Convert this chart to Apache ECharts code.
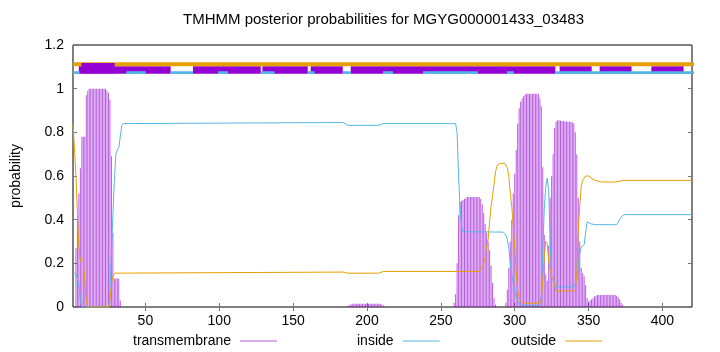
<!DOCTYPE html>
<html><head><meta charset="utf-8">
<script src="https://cdn.jsdelivr.net/npm/echarts@6/dist/echarts.min.js"></script>
<style>html,body{margin:0;padding:0;background:#fff}#c{width:720px;height:352px}</style>
</head><body><div id="c"></div>
<script>
const titleText = 'TMHMM posterior probabilities for MGYG000001433_03483';
const xTicks = [50, 100, 150, 200, 250, 300, 350, 400];

// posterior probability per residue: [residue, probability]
const transmembrane = [
[3,0.27],[4,0.41],[5,0.52],[6,0.635],[7,0.78],[8,0.78],[9,0.78],[10,0.97],[11,0.99],[12,1],[13,1],[14,1],[15,1],[16,1],[17,1],[18,1],[19,1],[20,1],[21,1],[22,1],[23,1],[24,0.99],[25,0.98],[26,0.95],[27,0.69],[28,0.34],[29,0.13],[30,0.13],[31,0.13],[32,0.13],[33,0.03],
[187,0.004],[188,0.008],[189,0.011],[190,0.013],[191,0.015],[192,0.015],[193,0.015],[194,0.015],[195,0.015],[196,0.015],[197,0.015],[198,0.015],[199,0.015],[200,0.015],[201,0.015],[202,0.015],[203,0.015],[204,0.015],[205,0.015],[206,0.015],[207,0.015],[208,0.015],[209,0.015],[210,0.012],[211,0.008],[212,0.004],
[259,0.02],[260,0.06],[261,0.2],[262,0.42],[263,0.48],[264,0.485],[265,0.49],[266,0.495],[267,0.5],[268,0.504],[269,0.504],[270,0.504],[271,0.504],[272,0.504],[273,0.504],[274,0.504],[275,0.504],[276,0.504],[277,0.495],[278,0.47],[279,0.43],[280,0.38],[281,0.34],[282,0.3],[283,0.26],[284,0.19],[285,0.11],[286,0.04],[287,0.01],
[294,0.02],[295,0.08],[296,0.18],[297,0.3],[298,0.4],[299,0.52],[300,0.61],[301,0.72],[302,0.84],[303,0.91],[304,0.94],[305,0.955],[306,0.965],[307,0.972],[308,0.977],[309,0.977],[310,0.977],[311,0.977],[312,0.977],[313,0.977],[314,0.977],[315,0.977],[316,0.977],[317,0.955],[318,0.92],[319,0.64],[320,0.33],[321,0.15],[322,0.12],[323,0.28],[324,0.5],[325,0.6],[326,0.7],[327,0.82],[328,0.85],[329,0.855],[330,0.855],[331,0.853],[332,0.852],[333,0.851],[334,0.85],[335,0.85],[336,0.849],[337,0.848],[338,0.847],[339,0.846],[340,0.84],[341,0.8],[342,0.7],[343,0.5],[344,0.3],[345,0.18],[346,0.155],[347,0.14],[348,0.1],[349,0.04],[350,0.025],
[351,0.03],[352,0.035],[353,0.04],[354,0.048],[355,0.052],[356,0.055],[357,0.055],[358,0.055],[359,0.055],[360,0.055],[361,0.055],[362,0.055],[363,0.055],[364,0.055],[365,0.055],[366,0.055],[367,0.055],[368,0.055],[369,0.052],[370,0.045],[371,0.035],[372,0.02],[373,0.01]
];

const inside = [
[1,0.16],[2,0.155],[3,0.15],[4,0.13],[5,0.1],[6,0.03],[7,0],[25,0],[26,0.05],[27,0.25],[28,0.42],[29,0.58],[30,0.7],[31,0.72],[32,0.73],[33,0.78],[34,0.83],[35,0.84],[36,0.845],
[184,0.845],[187,0.832],[208,0.832],[211,0.84],[260,0.84],[261,0.8],[262,0.6],[263,0.45],[264,0.37],[265,0.345],[292,0.343],[294,0.33],[295,0.31],[296,0.27],[297,0.2],[298,0.15],[299,0.11],[300,0.075],[301,0.046],[302,0.03],[303,0.015],[305,0.008],[317,0.008],
[318,0.05],[319,0.26],[320,0.45],[321,0.55],[322,0.59],[323,0.53],[324,0.3],[325,0.14],[326,0.13],[327,0.11],[328,0.095],[330,0.092],[340,0.092],[341,0.1],[342,0.122],[343,0.18],[344,0.245],[345,0.275],[346,0.28],[347,0.285],[348,0.34],[349,0.39],[350,0.39],[352,0.38],[355,0.377],[369,0.377],[370,0.385],[371,0.4],[372,0.412],[373,0.42],[374,0.423],[420,0.423]
];

const outside = [
[1,0.84],[2,0.84],[3,0.6],[4,0.42],[5,0.27],[6,0.21],[7,0.21],[8,0.21],[9,0.12],[10,0.02],[11,0],[25,0],[26,0.03],[27,0.1],[28,0.14],[29,0.155],[30,0.16],
[184,0.16],[187,0.155],[208,0.155],[211,0.163],[276,0.163],[277,0.168],[278,0.18],[279,0.2],[280,0.23],[281,0.28],[282,0.31],[283,0.39],[284,0.46],[285,0.51],[286,0.56],[287,0.62],[288,0.645],[289,0.655],[290,0.66],[293,0.659],[294,0.65],[295,0.638],[296,0.6],[297,0.52],[298,0.46],[299,0.37],[300,0.275],[301,0.16],[302,0.075],[303,0.04],[304,0.025],[305,0.02],[307,0.017],[317,0.017],
[318,0.035],[319,0.12],[320,0.23],[321,0.3],[322,0.29],[323,0.21],[324,0.17],[325,0.145],[326,0.13],[327,0.1],[328,0.072],[329,0.069],[341,0.075],[342,0.15],[343,0.35],[344,0.46],[345,0.55],[346,0.58],[347,0.59],[348,0.6],[349,0.603],[350,0.6],[351,0.592],[353,0.585],[355,0.58],[358,0.573],[368,0.572],[371,0.576],[373,0.58],[420,0.58]
];

// topology band segments above the plot: [from residue, to residue]
const bandOutside = [[1, 438.8]];
const bandTM = [[4.9,67.1],[82.2,128.1],[129.2,159.9],[161.9,183.6],[189.0,327.5],[330.4,352.1],[357.5,379.1],[392.5,414.3],[424.5,438.8]];
const bandTMBox = [[6.7,29.2]];
const bandInside = [[1,5.5],[37.1,50.2],[67.1,82.2],[99.2,105.9],[128.1,137.5],[160.1,164.6],[183.8,189.0],[210.8,217.6],[237.9,275.1],[294.8,299.3],[327.5,438.8]];
const bandLevel = { outside: 1.112, tm: 1.086, box: 1.0935, inside: 1.0737 };

const C_TM = '#9400d3', C_IN = '#56b4e9', C_OUT = '#e69f00';
const FONT = 'Liberation Sans, Arial, sans-serif';

function segs(ranges, y) {
  const out = [];
  ranges.forEach(r => { out.push([r[0], y], [r[1], y], [r[1], '-']); });
  return out;
}
function band(name, ranges, y, color, width, z) {
  return { name, type: 'line', data: segs(ranges, y), symbol: 'none', clip: false, connectNulls: false,
    lineStyle: { color, width, cap: 'butt' }, z, silent: true, animation: false };
}

const chart = echarts.init(document.getElementById('c'), null, { renderer: 'canvas' });
const legendBase = {
  orient: 'horizontal', top: 334, align: 'right', itemWidth: 37, itemHeight: 1, padding: 0,
  textStyle: { fontSize: 14, color: '#000', fontFamily: FONT, padding: [0, 4, 0, 0] },
  selectedMode: false
};
chart.setOption({
  animation: false,
  backgroundColor: '#fff',
  title: { text: titleText, left: 183, top: 12, padding: 0,
    textStyle: { fontSize: 15, fontWeight: 'normal', color: '#000', fontFamily: FONT } },
  grid: { left: 73, right: 28, top: 45, bottom: 45, show: true, borderColor: '#000', borderWidth: 1, backgroundColor: 'transparent' },
  legend: [
    Object.assign({}, legendBase, { left: 133, data: [{ name: 'transmembrane', icon: 'rect', itemStyle: { color: C_TM } }] }),
    Object.assign({}, legendBase, { left: 357, data: [{ name: 'inside', icon: 'rect', itemStyle: { color: C_IN } }] }),
    Object.assign({}, legendBase, { left: 511, data: [{ name: 'outside', icon: 'rect', itemStyle: { color: C_OUT } }] })
  ],
  xAxis: [
    { type: 'value', min: 1, max: 420, axisLine: { show: false }, splitLine: { show: false },
      axisTick: { show: true, inside: true, length: 4, customValues: xTicks, lineStyle: { color: '#777' } },
      axisLabel: { customValues: xTicks, fontSize: 14, color: '#000', fontFamily: FONT, margin: 7 } },
    { type: 'value', position: 'top', min: 1, max: 420, axisLine: { show: false }, splitLine: { show: false },
      axisTick: { show: true, inside: true, length: 4, customValues: xTicks, lineStyle: { color: '#777' } },
      axisLabel: { show: false } }
  ],
  yAxis: [
    { type: 'value', min: 0, max: 1.2, interval: 0.2, axisLine: { show: false }, splitLine: { show: false },
      axisTick: { show: true, inside: true, length: 4, lineStyle: { color: '#777' } },
      axisLabel: { fontSize: 14, color: '#000', fontFamily: FONT, margin: 9 },
      name: 'probability', nameLocation: 'middle', nameGap: 50,
      nameTextStyle: { fontSize: 14, color: '#000', fontFamily: FONT } },
    { type: 'value', position: 'right', min: 0, max: 1.2, interval: 0.2, axisLine: { show: false }, splitLine: { show: false },
      axisTick: { show: true, inside: true, length: 4, lineStyle: { color: '#777' } },
      axisLabel: { show: false } }
  ],
  series: [
    { name: 'transmembrane', type: 'bar', data: transmembrane, barWidth: 1, itemStyle: { color: C_TM, opacity: 0.65 }, z: 2 },
    { name: 'inside', type: 'line', data: inside, symbol: 'none', lineStyle: { color: C_IN, width: 1 }, itemStyle: { color: C_IN }, z: 3 },
    { name: 'outside', type: 'line', data: outside, symbol: 'none', lineStyle: { color: C_OUT, width: 1 }, itemStyle: { color: C_OUT }, z: 3 },
    band('bandTM', bandTM, bandLevel.tm, C_TM, 7.5, 4),
    band('bandOutside', bandOutside, bandLevel.outside, C_OUT, 4, 5),
    band('bandTMBox', bandTMBox, bandLevel.box, C_TM, 10.6, 6),
    band('bandInside', bandInside, bandLevel.inside, C_IN, 2.7, 7)
  ]
});
</script></body></html>
